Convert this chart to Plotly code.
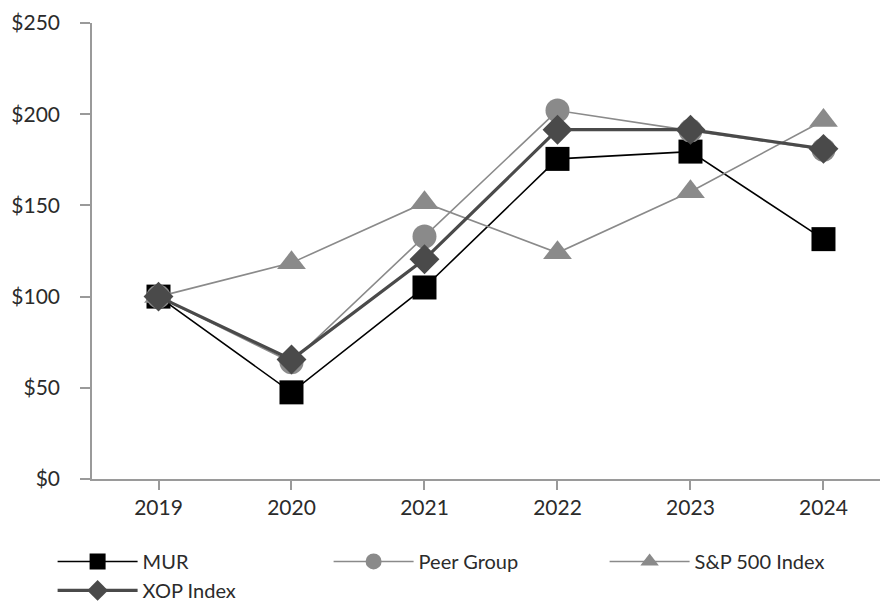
import plotly.graph_objects as go

years = ["2019", "2020", "2021", "2022", "2023", "2024"]
mur = [100, 47.5, 105, 175.5, 179.5, 131.5]
peer = [100, 64, 133, 202, 191, 180.5]
sp500 = [100, 118.5, 151.5, 124, 157.5, 196.5]
xop = [100, 65.5, 120.5, 191.5, 191.5, 181]
y_ticks = [0, 50, 100, 150, 200, 250]
y_labels = ["$0", "$50", "$100", "$150", "$200", "$250"]

fig = go.Figure()
fig.add_trace(go.Scatter(x=years, y=mur, name="MUR", mode="lines+markers",
                         line=dict(color="#000000", width=1.6),
                         marker=dict(symbol="square", size=24, color="#000000")))
fig.add_trace(go.Scatter(x=years, y=peer, name="Peer Group", mode="lines+markers",
                         line=dict(color="#8a8a8a", width=1.6),
                         marker=dict(symbol="circle", size=24, color="#8a8a8a")))
fig.add_trace(go.Scatter(x=years, y=sp500, name="S&P 500 Index", mode="lines+markers",
                         line=dict(color="#8a8a8a", width=1.6),
                         marker=dict(symbol="triangle-up", size=25, color="#8a8a8a")))
fig.add_trace(go.Scatter(x=years, y=xop, name="XOP Index", mode="lines+markers",
                         line=dict(color="#4a4a4a", width=3.2),
                         marker=dict(symbol="diamond", size=23, color="#4a4a4a")))

font_family = "Lato, 'Open Sans', sans-serif"
fig.update_layout(
    width=880, height=604,
    margin=dict(l=92, r=0, t=23, b=125, autoexpand=False),
    paper_bgcolor="white", plot_bgcolor="white",
    font=dict(family=font_family, size=21, color="#2b2b2b"),
    showlegend=True,
    legend=dict(orientation="h", x=-0.05, xanchor="left", y=-0.138, yanchor="top",
                entrywidth=181, entrywidthmode="pixels", itemwidth=80,
                font=dict(size=20, family=font_family, color="#2b2b2b"),
                tracegroupgap=0, traceorder="normal"),
    xaxis=dict(type="category", range=[-0.5, 5.425], showgrid=False,
               showline=True, linecolor="#9a9a9a", linewidth=1.5,
               ticks="outside", ticklen=9, tickcolor="#9a9a9a", tickwidth=1.5,
               zeroline=False),
    yaxis=dict(range=[0, 250], tickvals=y_ticks, ticktext=y_labels, showgrid=False,
               showline=True, linecolor="#9a9a9a", linewidth=1.5,
               ticks="outside", ticklen=10, tickcolor="#9a9a9a", tickwidth=1.5,
               ticklabelstandoff=16, zeroline=False),
)
fig.write_html("out.html")
